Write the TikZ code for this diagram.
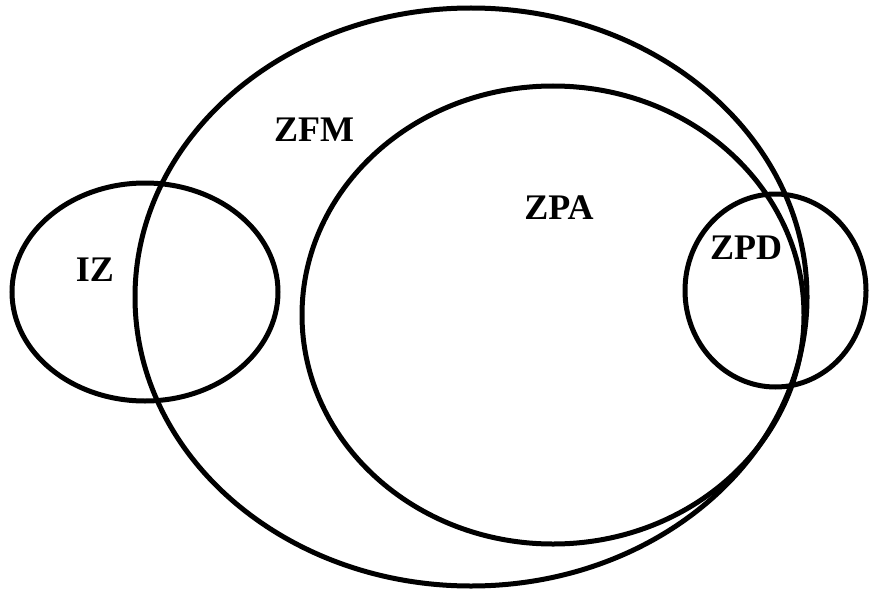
\documentclass[tikz,border=0pt]{standalone}
\usepackage{fontspec}
\setmainfont{Liberation Serif}
\begin{document}
\begin{tikzpicture}[
    x=1pt, y=-1pt,
    zone/.style={draw=black, line width=5pt},
    every node/.style={font=\fontsize{36}{40}\selectfont\bfseries,
                       inner sep=0pt, anchor=center}]
  \useasboundingbox (0,0) rectangle (869,591);
  % zones
  \draw[zone] (471,297) ellipse [x radius=336, y radius=289];
  \draw[zone] (553,315) ellipse [x radius=251, y radius=229];
  \draw[zone] (145,292) ellipse [x radius=133, y radius=109];
  \draw[zone] (775.5,290.5) ellipse [x radius=90.5, y radius=96.5];
  % labels
  \node (zfm) at (314,130) {ZFM};
  \node (zpa) at (559,208) {ZPA};
  \node (zpd) at (746,248) {ZPD};
  \node (iz)  at (95,270)  {IZ};
\end{tikzpicture}
\end{document}
